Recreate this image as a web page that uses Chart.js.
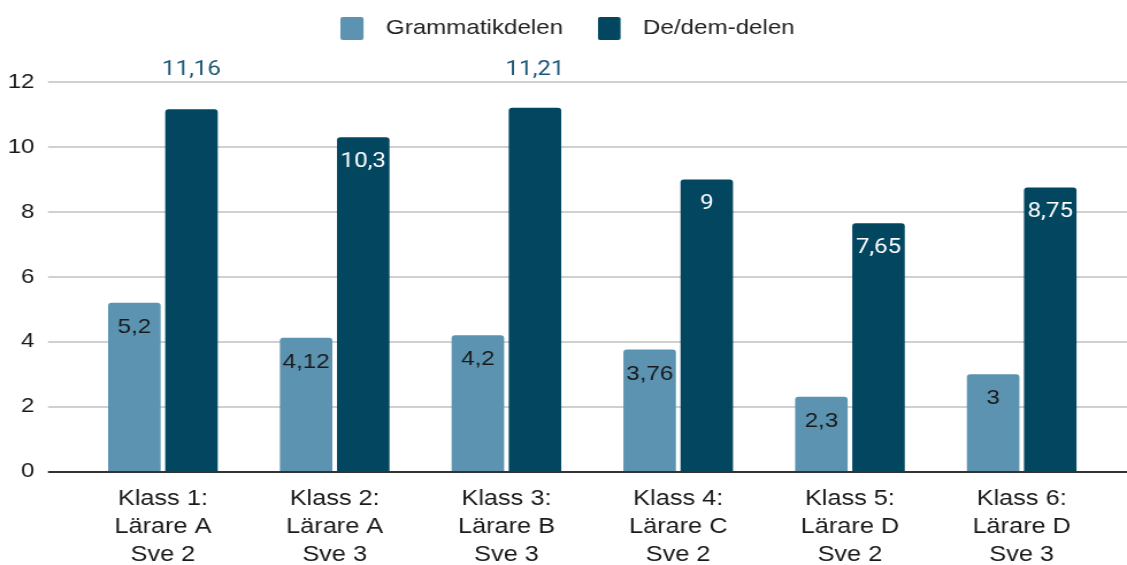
<!DOCTYPE html>
<html>
<head>
<meta charset="utf-8">
<script src="https://cdn.jsdelivr.net/npm/chart.js@4"></script>
<style>
  html, body { margin: 0; padding: 0; background: #fff; overflow: hidden; }
  canvas { display: block; }
</style>
</head>
<body>
<!-- the reference is stretched ~1.15x horizontally, so draw at 980 wide and scale up -->
<canvas id="chart" width="980" height="565" style="width:1127px;height:565px"></canvas>
<script>
const categories = [
  ['Klass 1:', 'Lärare A', 'Sve 2'],
  ['Klass 2:', 'Lärare A', 'Sve 3'],
  ['Klass 3:', 'Lärare B', 'Sve 3'],
  ['Klass 4:', 'Lärare C', 'Sve 2'],
  ['Klass 5:', 'Lärare D', 'Sve 2'],
  ['Klass 6:', 'Lärare D', 'Sve 3']
];
const seriesNames = ['Grammatikdelen', 'De/dem-delen'];
const grammatikdelen = [5.2, 4.12, 4.2, 3.76, 2.3, 3];
const dedemdelen = [11.16, 10.3, 11.21, 9, 7.65, 8.75];
const yMin = 0;
const yMax = 12;
const yStep = 2;

const lightBlue = '#5b93b0';
const darkBlue = '#024660';

function formatValue(v) {
  return String(v).replace('.', ',');
}

// legend swatch with some empty room on its right, so the text sits further out
function swatch(color) {
  const c = document.createElement('canvas');
  c.width = 29;
  c.height = 23;
  const g = c.getContext('2d');
  g.fillStyle = color;
  g.beginPath();
  g.roundRect(0, 0, 20, 23, 2);
  g.fill();
  return c;
}
const swatches = [swatch(lightBlue), swatch(darkBlue)];

// grid lines run further left than the category band, like in Sheets
const sheetGrid = {
  id: 'sheetGrid',
  beforeInit(chart) {
    const fit = chart.legend.fit;
    chart.legend.fit = function () {
      fit.call(this);
      this.height += 33;
    };
  },
  afterLayout(chart) {
    // chart.js counts one extra padding in the legend row, nudge it back to centre
    chart.legend.left += 12;
    chart.legend.right += 12;
  },
  beforeDatasetsDraw(chart) {
    const { ctx, width } = chart;
    const y = chart.scales.y;
    ctx.save();
    ctx.strokeStyle = '#d0d0d0';
    ctx.lineWidth = 2;
    y.ticks.forEach(t => {
      if (t.value === 0) return;
      const py = Math.round(y.getPixelForValue(t.value));
      ctx.beginPath();
      ctx.moveTo(41.7, py);
      ctx.lineTo(width, py);
      ctx.stroke();
    });
    ctx.restore();
  },
  afterDatasetsDraw(chart) {
    const { ctx, width, chartArea } = chart;
    const y = chart.scales.y;
    ctx.save();
    const zy = Math.round(y.getPixelForValue(0));
    ctx.strokeStyle = '#333333';
    ctx.lineWidth = 2;
    ctx.beginPath();
    ctx.moveTo(41.7, zy);
    ctx.lineTo(width, zy);
    ctx.stroke();

    // value labels
    ctx.textAlign = 'center';
    ctx.textBaseline = 'middle';
    chart.data.datasets.forEach((ds, i) => {
      const meta = chart.getDatasetMeta(i);
      meta.data.forEach((bar, j) => {
        const text = formatValue(ds.data[j]);
        if (i === 0) {
          ctx.font = '21px "Liberation Sans", Arial, sans-serif';
          ctx.fillStyle = '#1a1a1a';
          ctx.fillText(text, bar.x, bar.y + 24.5);
        } else if (bar.y - chartArea.top < 35) {
          ctx.font = '21px Roboto, sans-serif';
          ctx.fillStyle = '#1b5675';
          ctx.fillText(text, bar.x, chartArea.top - 12);
        } else {
          ctx.font = '21px Roboto, sans-serif';
          ctx.fillStyle = '#ffffff';
          ctx.fillText(text, bar.x, bar.y + 24.5);
        }
      });
    });
    ctx.restore();
  }
};

new Chart(document.getElementById('chart'), {
  type: 'bar',
  data: {
    labels: categories,
    datasets: [
      {
        label: seriesNames[0],
        data: grammatikdelen,
        backgroundColor: lightBlue,
        borderRadius: { topLeft: 3, topRight: 3 },
        borderSkipped: 'start'
      },
      {
        label: seriesNames[1],
        data: dedemdelen,
        backgroundColor: darkBlue,
        borderRadius: { topLeft: 3, topRight: 3 },
        borderSkipped: 'start'
      }
    ]
  },
  options: {
    responsive: false,
    animation: false,
    devicePixelRatio: 1,
    layout: { padding: { top: -12, right: 16.9, bottom: 0, left: 0 } },
    datasets: {
      bar: { categoryPercentage: 0.665, barPercentage: 0.92 }
    },
    plugins: {
      tooltip: { enabled: false },
      legend: {
        position: 'top',
        align: 'center',
        labels: {
          usePointStyle: true,
          pointStyleWidth: 29,
          boxHeight: 23,
          padding: 30,
          color: '#222',
          font: { family: '"Liberation Sans", Arial, sans-serif', size: 21 },
          generateLabels(chart) {
            const items = Chart.defaults.plugins.legend.labels.generateLabels(chart);
            items.forEach((item, i) => { item.pointStyle = swatches[i]; });
            return items;
          }
        }
      }
    },
    scales: {
      x: {
        grid: { display: false, drawTicks: false },
        border: { display: false },
        ticks: {
          color: '#1a1a1a',
          padding: 13,
          maxRotation: 0,
          autoSkip: false,
          font: { family: '"Liberation Sans", Arial, sans-serif', size: 22, lineHeight: 1.273 }
        },
        afterFit(scale) { scale.height = 93.5; }
      },
      y: {
        min: yMin,
        max: yMax,
        grid: { display: false, drawTicks: false },
        border: { display: false },
        ticks: {
          stepSize: yStep,
          color: '#1a1a1a',
          padding: 37,
          font: { family: '"Liberation Sans", Arial, sans-serif', size: 21 }
        },
        afterFit(scale) { scale.width = 67; }
      }
    }
  },
  plugins: [sheetGrid]
});
</script>
</body>
</html>
